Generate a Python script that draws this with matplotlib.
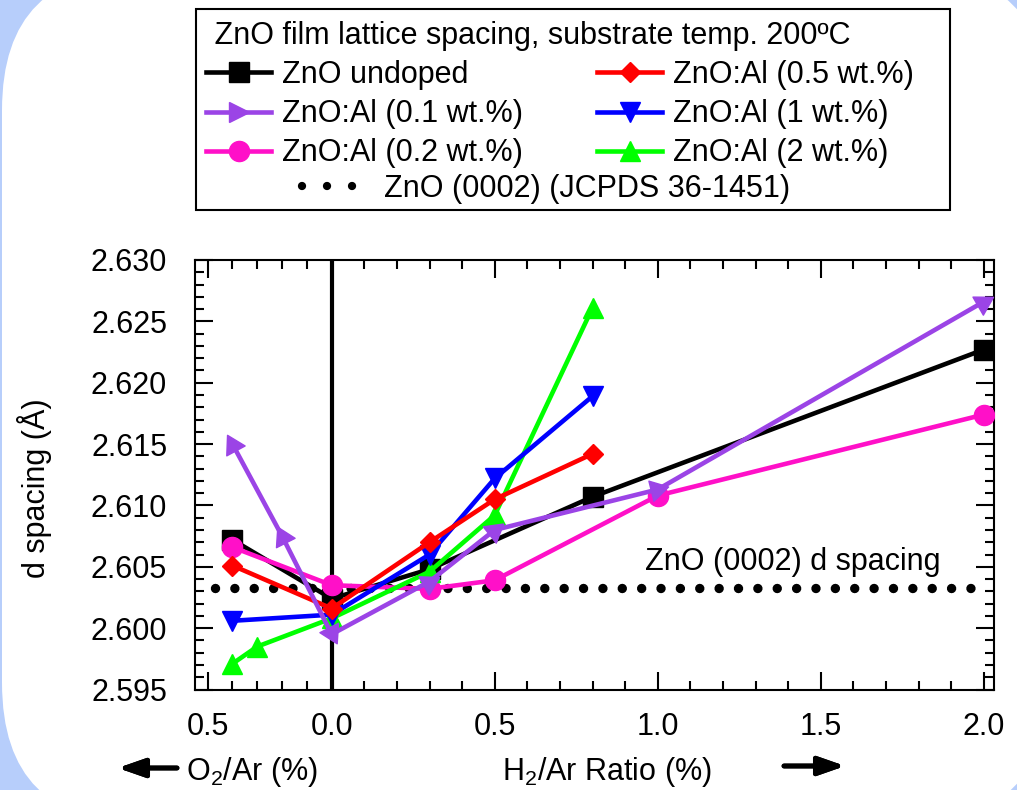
import numpy as np
import matplotlib
matplotlib.use('Agg')
import matplotlib.pyplot as plt
from matplotlib.lines import Line2D
from matplotlib.markers import MarkerStyle
from matplotlib.path import Path
from matplotlib.patches import FancyBboxPatch, Rectangle
from matplotlib.ticker import MultipleLocator, FormatStrFormatter
from matplotlib.transforms import Affine2D

plt.rcParams['font.family'] = ['Liberation Sans', 'DejaVu Sans']
plt.rcParams['mathtext.fontset'] = 'custom'
plt.rcParams['mathtext.rm'] = 'Liberation Sans'
plt.rcParams['mathtext.it'] = 'Liberation Sans:italic'
plt.rcParams['font.size'] = 22

# d spacing (Å); each series: O2/Ar points (outer -> 0), then H2/Ar points
undoped_o2 = [0.4]
undoped_h2 = [0.0, 0.3, 0.8, 2.0]
undoped_d = [2.6072, 2.6024, 2.6048, 2.6107, 2.6227]

al01_o2 = [0.4, 0.2]
al01_h2 = [0.0, 0.3, 0.5, 1.0, 2.0]
al01_d = [2.6150, 2.6075, 2.5995, 2.6038, 2.6080, 2.6113, 2.6266]

al02_o2 = [0.4]
al02_h2 = [0.0, 0.3, 0.5, 1.0, 2.0]
al02_d = [2.6066, 2.6035, 2.6032, 2.6039, 2.6108, 2.6174]

al05_o2 = [0.4]
al05_h2 = [0.0, 0.3, 0.5, 0.8]
al05_d = [2.6051, 2.6016, 2.6070, 2.6105, 2.6142]

al1_o2 = [0.4]
al1_h2 = [0.0, 0.3, 0.5, 0.8]
al1_d = [2.6006, 2.6011, 2.6060, 2.6122, 2.6189]

al2_o2 = [0.4, 0.3]
al2_h2 = [0.0, 0.3, 0.5, 0.8]
al2_d = [2.5971, 2.5985, 2.6008, 2.6046, 2.6092, 2.6261]

ref_d = 2.6033          # ZnO (0002), JCPDS 36-1451
ref_o2_end = 0.47
ref_h2_end = 1.98

# the O2/Ar side of the axis is drawn compressed
O2_SCALE = 0.761

W, H = 1017, 790


def xpos(o2, h2):
    return np.concatenate([-O2_SCALE * np.asarray(o2, float), np.asarray(h2, float)])


def fx(px):
    return px / W


def fy(py):
    return 1 - py / H


fig = plt.figure(figsize=(W / 100, H / 100), dpi=100)
fig.patch.set_facecolor('#b7cefb')
bg = FancyBboxPatch((0.02, -0.33), 10.46, 8.53,
                    boxstyle='round,pad=0,rounding_size=1.4',
                    transform=fig.dpi_scale_trans, facecolor='white',
                    edgecolor='none', zorder=-10)
fig.add_artist(bg)

ax = fig.add_axes([fx(195), fy(689.5), (993.5 - 195) / W, (689.5 - 260) / H])
ax.set_facecolor('none')
ax.set_xlim(-0.4193, 2.030)
ax.set_ylim(2.595, 2.630)

lw = 3.3
ref_line, = ax.plot([-O2_SCALE * ref_o2_end, ref_h2_end], [ref_d, ref_d],
                    color='k', lw=6.8, linestyle=(0, (0.001, 2.05)),
                    dash_capstyle='round', zorder=2)
ax.axvline(0, color='k', lw=3, zorder=2)

series = [
    ('ZnO undoped', undoped_o2, undoped_h2, undoped_d, 'k', 's', 14),
    ('ZnO:Al (0.2 wt.%)', al02_o2, al02_h2, al02_d, '#ff10c8', 'o', 14.5),
    ('ZnO:Al (2 wt.%)', al2_o2, al2_h2, al2_d, '#00ff00', '^', 14),
    ('ZnO:Al (1 wt.%)', al1_o2, al1_h2, al1_d, '#0000ff', 'v', 14),
    ('ZnO:Al (0.5 wt.%)', al05_o2, al05_h2, al05_d, '#ff0000', 'D', 10.5),
]
handles = {}
for i, (lab, o2, h2, d, col, mk, ms) in enumerate(series):
    ln, = ax.plot(xpos(o2, h2), d, color=col, lw=lw, marker=mk, ms=ms,
                  label=lab, zorder=3 + i)
    handles[lab] = ln

# 0.1 wt.% series: arrow-head markers following the line direction
purple = '#9b44e6'
px_ = xpos(al01_o2, al01_h2)
ax.plot(px_, al01_d, color=purple, lw=lw, zorder=9)
pts = ax.transData.transform(np.column_stack([px_, al01_d]))
arrow = Path([(1, 0), (-0.7, 1), (-0.7, -1), (1, 0)],
             [Path.MOVETO, Path.LINETO, Path.LINETO, Path.CLOSEPOLY])
for i in range(len(px_)):
    if px_[i] < 0:
        v = pts[i] - pts[i + 1]
    else:
        v = pts[i] - pts[i - 1]
    ang = np.degrees(np.arctan2(v[1], v[0]))
    m = MarkerStyle(arrow, transform=Affine2D().rotate_deg(ang))
    ax.plot([px_[i]], [al01_d[i]], ls='none', marker=m, ms=15,
            color=purple, zorder=10)
handles['ZnO:Al (0.1 wt.%)'] = Line2D([], [], color=purple, lw=lw,
                                     marker='>', ms=14)

# axes styling
major_x = xpos([0.5, 0.0], [0.5, 1.0, 1.5, 2.0])
minor_x = xpos([0.4, 0.3, 0.2, 0.1],
               [0.1, 0.2, 0.3, 0.4, 0.6, 0.7, 0.8, 0.9,
                1.1, 1.2, 1.3, 1.4, 1.6, 1.7, 1.8, 1.9])
ax.set_xticks(major_x)
ax.set_xticklabels(['0.5', '0.0', '0.5', '1.0', '1.5', '2.0'])
ax.set_xticks(minor_x, minor=True)
ax.yaxis.set_major_locator(MultipleLocator(0.005))
ax.yaxis.set_minor_locator(MultipleLocator(0.001))
ax.yaxis.set_major_formatter(FormatStrFormatter('%.3f'))
ax.tick_params(which='both', direction='in', top=True, right=True,
               width=1.5, labelsize=22)
ax.tick_params(which='major', length=13)
ax.tick_params(which='minor', length=6.5)
ax.tick_params(axis='y', pad=20)
ax.tick_params(axis='x', pad=16)
for s in ax.spines.values():
    s.set_linewidth(1.5)

ax.text(fx(793), fy(562), 'ZnO (0002) d spacing', transform=fig.transFigure,
        ha='center', va='center', fontsize=22)

# axis labels
fig.text(fx(35), fy(488), 'd spacing (Å)', rotation=90, ha='center',
         va='center', fontsize=22)
fig.text(fx(186), fy(780), 'O$_2$/Ar (%)', ha='left', va='baseline',
         fontsize=22)
fig.text(fx(502), fy(780), 'H$_2$/Ar Ratio (%)', ha='left', va='baseline',
         fontsize=22)
arrow_kw = dict(arrowstyle='-|>,head_length=0.8,head_width=0.28',
                lw=3.5, color='k', mutation_scale=20, shrinkA=0, shrinkB=0)
fig.add_artist(plt.annotate('', xy=(fx(118), fy(768)), xytext=(fx(177), fy(768)),
                            xycoords='figure fraction', arrowprops=arrow_kw))
fig.add_artist(plt.annotate('', xy=(fx(845), fy(766)), xytext=(fx(784), fy(766)),
                            xycoords='figure fraction', arrowprops=arrow_kw))

# legend
order = ['ZnO undoped', 'ZnO:Al (0.1 wt.%)', 'ZnO:Al (0.2 wt.%)',
         'ZnO:Al (0.5 wt.%)', 'ZnO:Al (1 wt.%)', 'ZnO:Al (2 wt.%)']
fig.add_artist(Rectangle((fx(196), fy(210)), (950 - 196) / W, (210 - 9) / H,
                         transform=fig.transFigure, facecolor='white',
                         edgecolor='k', lw=1.5, zorder=5))
leg = fig.legend([handles[k] for k in order], order, loc='upper left',
                 bbox_to_anchor=(fx(206), fy(21)), ncol=2, frameon=False,
                 borderpad=0, borderaxespad=0, handlelength=2.13,
                 handletextpad=0.36, columnspacing=2.43, labelspacing=0.3,
                 numpoints=1, fontsize=22,
                 title=' ZnO film lattice spacing, substrate temp. 200ºC',
                 title_fontsize=22, alignment='left')
leg.set_zorder(6)
ref_proxy = Line2D([], [], color='k', lw=6, linestyle=(0, (0.001, 3.0)),
                   dash_capstyle='round')
leg2 = fig.legend([ref_proxy], ['ZnO (0002) (JCPDS 36-1451)'],
                  loc='upper left', bbox_to_anchor=(fx(302), fy(174)),
                  frameon=False, borderpad=0, borderaxespad=0,
                  handlelength=1.75, handletextpad=0.95, fontsize=22)
leg2.set_zorder(6)

fig.savefig('out.png', dpi=100)
